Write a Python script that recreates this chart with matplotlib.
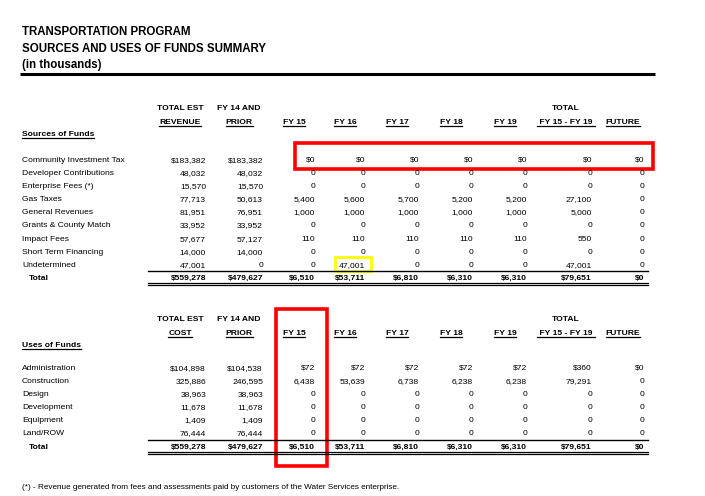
import numpy as np
import matplotlib.pyplot as plt
from matplotlib.patches import Rectangle

plt.rcParams['font.family'] = ['Liberation Sans Narrow', 'Liberation Sans', 'DejaVu Sans']

title_lines = ['TRANSPORTATION PROGRAM', 'SOURCES AND USES OF FUNDS SUMMARY', '(in thousands)']

source_labels = ['Community Investment Tax', 'Developer Contributions', 'Enterprise Fees (*)',
                 'Gas Taxes', 'General Revenues', 'Grants & County Match', 'Impact Fees',
                 'Short Term Financing', 'Undetermined']
src_total_est = [183382, 48032, 15570, 77713, 81951, 33952, 57677, 14000, 47001]
src_fy14 = [183382, 48032, 15570, 50613, 76951, 33952, 57127, 14000, 0]
src_fy15 = [0, 0, 0, 5400, 1000, 0, 110, 0, 0]
src_fy16 = [0, 0, 0, 5600, 1000, 0, 110, 0, 47001]
src_fy17 = [0, 0, 0, 5700, 1000, 0, 110, 0, 0]
src_fy18 = [0, 0, 0, 5200, 1000, 0, 110, 0, 0]
src_fy19 = [0, 0, 0, 5200, 1000, 0, 110, 0, 0]
src_total_15_19 = [0, 0, 0, 27100, 5000, 0, 550, 0, 47001]
src_future = [0, 0, 0, 0, 0, 0, 0, 0, 0]

use_labels = ['Administration', 'Construction', 'Design', 'Development', 'Equipment', 'Land/ROW']
use_total_est = [104898, 325886, 38963, 11678, 1409, 76444]
use_fy14 = [104538, 246595, 38963, 11678, 1409, 76444]
use_fy15 = [72, 6438, 0, 0, 0, 0]
use_fy16 = [72, 53639, 0, 0, 0, 0]
use_fy17 = [72, 6738, 0, 0, 0, 0]
use_fy18 = [72, 6238, 0, 0, 0, 0]
use_fy19 = [72, 6238, 0, 0, 0, 0]
use_total_15_19 = [360, 79291, 0, 0, 0, 0]
use_future = [0, 0, 0, 0, 0, 0]

src_head_top = ['TOTAL EST', 'FY 14 AND', '', '', '', '', '', 'TOTAL', '']
src_head_bot = ['REVENUE', 'PRIOR', 'FY 15', 'FY 16', 'FY 17', 'FY 18', 'FY 19', ' FY 15 - FY 19 ', 'FUTURE']
use_head_top = ['TOTAL EST', 'FY 14 AND', '', '', '', '', '', 'TOTAL', '']
use_head_bot = ['COST', 'PRIOR', 'FY 15', 'FY 16', 'FY 17', 'FY 18', 'FY 19', ' FY 15 - FY 19 ', 'FUTURE']

footnote = '(*) - Revenue generated from fees and assessments paid by customers of the Water Services enterprise.'

# layout (pixels)
col_right = [206, 263, 315, 365, 419, 473, 527, 592, 644]
col_center = [180, 239, 294, 345, 397, 451, 505, 566, 623]
fs = 6.1
off = 3  # row center -> baseline

fig = plt.figure(figsize=(7.05, 4.96), dpi=100)
ax = fig.add_axes([0, 0, 1, 1])
ax.set_xlim(0, 705)
ax.set_ylim(496, 0)
ax.axis('off')

for i, t in enumerate(title_lines):
    ax.text(22, 35 + i * 16.5, t, fontsize=8.3, fontweight='bold', va='baseline', ha='left')
ax.plot([20, 655], [74, 74], color='black', lw=2.2, solid_capstyle='butt')

underlined = []


def fmt(v, dollar):
    return ('$' if dollar else '') + f'{v:,}'


def draw_block(y_head, heads_top, heads_bot, section, labels, cols, y0):
    for c, (t1, t2) in enumerate(zip(heads_top, heads_bot)):
        if t1:
            ax.text(col_center[c], y_head + off, t1, fontsize=fs, fontweight='bold',
                    ha='center', va='baseline')
        underlined.append(ax.text(col_center[c], y_head + 14 + off, t2, fontsize=fs,
                                  fontweight='bold', ha='center', va='baseline'))
    underlined.append(ax.text(22, y_head + 26 + off, section, fontsize=fs, fontweight='bold',
                              ha='left', va='baseline'))
    step = 13.1
    for r, lab in enumerate(labels):
        y = round(y0 + r * step) + off
        ax.text(22, y, lab, fontsize=fs, ha='left', va='baseline')
        for c, col in enumerate(cols):
            ax.text(col_right[c], y, fmt(col[r], r == 0), fontsize=fs, ha='right', va='baseline')
    yt = round(y0 + len(labels) * step)
    ax.text(29, yt + off, 'Total', fontsize=fs, fontweight='bold', ha='left', va='baseline')
    for c, col in enumerate(cols):
        ax.text(col_right[c], yt + off, fmt(int(np.sum(col)), True), fontsize=fs,
                fontweight='bold', ha='right', va='baseline')
    ax.plot([148, 648], [yt - 6, yt - 6], color='black', lw=1.0)
    ax.plot([148, 648], [yt + 6, yt + 6], color='black', lw=0.9)
    ax.plot([148, 648], [yt + 8, yt + 8], color='black', lw=0.9)


src_cols = [src_total_est, src_fy14, src_fy15, src_fy16, src_fy17, src_fy18, src_fy19,
            src_total_15_19, src_future]
use_cols = [use_total_est, use_fy14, use_fy15, use_fy16, use_fy17, use_fy18, use_fy19,
            use_total_15_19, use_future]

draw_block(107, src_head_top, src_head_bot, 'Sources of Funds', source_labels, src_cols, 159)
draw_block(318, use_head_top, use_head_bot, 'Uses of Funds', use_labels, use_cols, 367)

ax.text(22, 486 + off, footnote, fontsize=5.85, ha='left', va='baseline')

# highlight boxes
ax.add_patch(Rectangle((295, 143), 358, 26, fill=False, edgecolor='#ff0000', lw=2.6))
ax.add_patch(Rectangle((335, 257), 36, 14, fill=False, edgecolor='#ffff00', lw=2.0))
ax.add_patch(Rectangle((276, 309), 51, 157, fill=False, edgecolor='#ff0000', lw=2.6))

# underline header text
fig.canvas.draw()
renderer = fig.canvas.get_renderer()
inv = ax.transData.inverted()
for t in underlined:
    bb = t.get_window_extent(renderer)
    (x0, y0), (x1, y1) = inv.transform([(bb.x0, bb.y0), (bb.x1, bb.y1)])
    ax.plot([x0, x1], [y0 - 0.3, y0 - 0.3], color='black', lw=0.9)

fig.savefig('out.png', dpi=100)
